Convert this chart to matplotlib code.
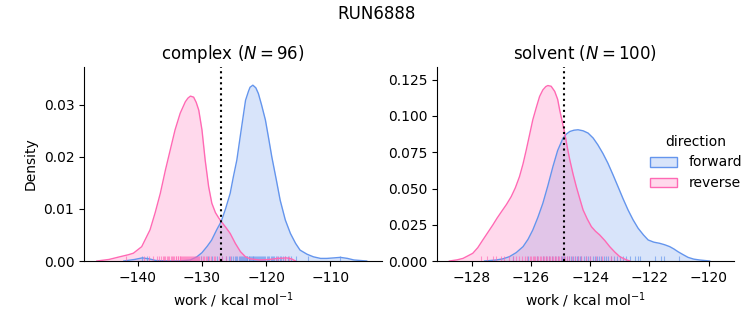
import numpy as np
import matplotlib.pyplot as plt
import matplotlib.patches as patches
import matplotlib.colors as mcolors
import matplotlib.transforms as mtransforms

# kernel density curves (work, density) for each phase / direction
cx_fwd_x = [-142.2, -140.5, -139.3, -138.2, -137.2, -135.0, -133.4, -131.8, -130.8, -130.0,
            -129.2, -128.5, -127.7, -127.0, -126.3, -125.6, -125.1, -124.56, -124.0, -123.5,
            -123.2, -122.75, -122.5, -122.06, -121.6, -121.2, -120.7, -120.1, -119.6, -119.1,
            -118.4, -117.8, -117.0, -116.2, -115.4, -114.7, -113.6, -112.6, -111.5, -110.5,
            -109.4, -108.4, -107.3, -106.3, -104.3]
cx_fwd_y = [0.0, 0.0003, 0.0006, 0.0004, 0.0001, 0.0, 0.0, 0.0002, 0.0008, 0.0016,
            0.0028, 0.0040, 0.0060, 0.0076, 0.0101, 0.0130, 0.0162, 0.0194, 0.0242, 0.0284,
            0.0309, 0.0326, 0.0334, 0.0338, 0.0333, 0.0322, 0.0300, 0.0271, 0.0236, 0.0200,
            0.0156, 0.0117, 0.0079, 0.0053, 0.0034, 0.0021, 0.0013, 0.0008, 0.0005, 0.0005,
            0.0006, 0.0007, 0.0005, 0.0002, 0.0]
cx_rev_x = [-146.4, -144.5, -142.76, -141.5, -140.7, -139.4, -138.1, -137.3, -136.5, -135.7,
            -134.96, -134.2, -133.4, -132.6, -132.2, -131.8, -131.3, -130.9, -130.5, -130.0,
            -129.5, -128.96, -128.46, -127.9, -127.4, -127.0, -126.3, -125.6, -124.8, -124.0,
            -123.2, -122.4, -121.0, -119.5, -118.2, -116.8, -116.0, -115.4]
cx_rev_y = [0.0, 0.0003, 0.00083, 0.0012, 0.0015, 0.00276, 0.0060, 0.0093, 0.0130, 0.0175,
            0.0213, 0.0252, 0.0284, 0.0306, 0.0313, 0.0317, 0.0315, 0.0305, 0.0290, 0.0252,
            0.0194, 0.0143, 0.0111, 0.0093, 0.0083, 0.0076, 0.0065, 0.0053, 0.0034, 0.0018,
            0.0008, 0.0004, 0.0002, 0.0003, 0.0005, 0.0006, 0.0004, 0.0]

sv_fwd_x = [-127.57, -127.18, -126.95, -126.73, -126.5, -126.27, -126.1, -125.94, -125.77, -125.6,
            -125.43, -125.26, -125.1, -124.92, -124.8, -124.69, -124.55, -124.41, -124.24, -124.07,
            -123.9, -123.74, -123.57, -123.4, -123.23, -123.06, -122.89, -122.72, -122.55, -122.38,
            -122.2, -122.04, -121.85, -121.65, -121.48, -121.31, -121.17, -121.03, -120.86, -120.69,
            -120.5, -120.3, -119.96]
sv_fwd_y = [0.0, 0.0007, 0.0015, 0.0030, 0.0058, 0.0099, 0.0150, 0.0214, 0.0300, 0.0398,
            0.0520, 0.0651, 0.0762, 0.0847, 0.0876, 0.0893, 0.0902, 0.0905, 0.0898, 0.0882,
            0.0848, 0.0801, 0.0742, 0.0674, 0.0595, 0.0513, 0.0430, 0.0352, 0.0284, 0.0226,
            0.0180, 0.0145, 0.0130, 0.0122, 0.0112, 0.0099, 0.0083, 0.0064, 0.0044, 0.0025,
            0.0013, 0.0007, 0.0]
sv_rev_x = [-128.76, -128.5, -128.3, -127.97, -127.8, -127.63, -127.46, -127.29, -127.15, -127.0,
            -126.83, -126.67, -126.53, -126.39, -126.27, -126.16, -126.05, -125.94, -125.82, -125.71,
            -125.6, -125.5, -125.43, -125.32, -125.2, -125.1, -125.03, -124.95, -124.86, -124.78,
            -124.69, -124.58, -124.47, -124.35, -124.24, -124.1, -123.96, -123.82, -123.68, -123.5,
            -123.34, -123.17, -123.0, -122.8, -122.66]
sv_rev_y = [0.0, 0.0008, 0.0018, 0.0053, 0.0092, 0.0145, 0.0197, 0.0249, 0.0295, 0.0340,
            0.0390, 0.0444, 0.0505, 0.0582, 0.0670, 0.0767, 0.0870, 0.0974, 0.1060, 0.1135,
            0.1180, 0.1203, 0.1210, 0.1205, 0.1170, 0.1115, 0.1040, 0.0965, 0.0882, 0.0790,
            0.0698, 0.0600, 0.0513, 0.0428, 0.0352, 0.0290, 0.0237, 0.0205, 0.0180, 0.0140,
            0.0099, 0.0062, 0.0030, 0.0010, 0.0]

# individual work values (rug)
cx_fwd_w = [-139.4, -138.6, -130.2, -129.1, -128.4, -127.6, -126.9, -126.3, -125.8, -125.5,
            -125.2, -124.9, -124.7, -124.5, -124.3, -124.1, -123.9, -123.8, -123.6, -123.5,
            -123.3, -123.2, -123.0, -122.9, -122.7, -122.6, -122.5, -122.4, -122.2, -122.1,
            -122.0, -121.9, -121.7, -121.6, -121.4, -121.3, -121.1, -121.0, -120.8, -120.6,
            -120.5, -120.3, -120.2, -119.9, -119.7, -119.5, -119.3, -119.1, -118.9, -118.7,
            -118.4, -118.2, -117.9, -117.6, -117.3, -117.0, -116.6, -116.1, -115.3, -113.4,
            -108.5]
cx_rev_w = [-141.8, -139.1, -138.3, -137.6, -137.0, -136.7, -136.4, -136.1, -135.9, -135.7,
            -135.5, -135.3, -135.1, -134.9, -134.7, -134.5, -134.3, -134.1, -134.0, -133.8,
            -133.7, -133.5, -133.4, -133.2, -133.1, -132.9, -132.8, -132.6, -132.5, -132.3,
            -132.2, -132.0, -131.9, -131.7, -131.6, -131.4, -131.3, -131.1, -131.0, -130.8,
            -130.6, -130.4, -130.2, -129.9, -129.7, -129.4, -129.2, -128.9, -128.6, -128.2,
            -127.9, -127.4, -126.8, -126.2, -125.6, -118.3, -117.1, -116.4]
sv_fwd_w = [-126.6, -126.1, -125.8, -125.6, -125.5, -125.4, -125.3, -125.2, -125.1, -125.0,
            -124.95, -124.88, -124.8, -124.72, -124.65, -124.58, -124.5, -124.45, -124.4, -124.35,
            -124.3, -124.22, -124.15, -124.08, -124.0, -123.92, -123.85, -123.78, -123.7, -123.62,
            -123.55, -123.48, -123.4, -123.3, -123.2, -123.1, -123.0, -122.9, -122.8, -122.65,
            -122.5, -122.4, -122.3, -121.8, -121.6, -121.5, -121.0]
sv_rev_w = [-127.7, -127.5, -127.3, -127.2, -127.0, -126.9, -126.75, -126.6, -126.5, -126.4,
            -126.3, -126.2, -126.12, -126.05, -126.0, -125.95, -125.9, -125.85, -125.8, -125.75,
            -125.7, -125.65, -125.6, -125.55, -125.5, -125.45, -125.4, -125.35, -125.3, -125.25,
            -125.2, -125.15, -125.1, -125.05, -125.0, -124.92, -124.85, -124.78, -124.7, -124.6,
            -124.5, -124.4, -124.3, -124.15, -124.0, -123.8, -123.6, -123.3]

directions = ['forward', 'reverse']
colors = {'forward': 'cornflowerblue', 'reverse': 'hotpink'}
n_samples = {'complex': 96, 'solvent': 100}
mean_work = {'complex': -127.0, 'solvent': -124.9}

panels = [
    ('complex', {'forward': (cx_fwd_x, cx_fwd_y, cx_fwd_w), 'reverse': (cx_rev_x, cx_rev_y, cx_rev_w)},
     (-148.4, -101.9), (0, 0.0373), [-140, -130, -120, -110], [0, 0.01, 0.02, 0.03]),
    ('solvent', {'forward': (sv_fwd_x, sv_fwd_y, sv_fwd_w), 'reverse': (sv_rev_x, sv_rev_y, sv_rev_w)},
     (-129.18, -119.14), (0, 0.1338), [-128, -126, -124, -122, -120], [0, 0.025, 0.05, 0.075, 0.1, 0.125]),
]

fig = plt.figure(figsize=(7.53, 3.25), dpi=100)
axes = [fig.add_axes([0.1116, 0.1969, 0.3958, 0.597]),
        fig.add_axes([0.5803, 0.1969, 0.3944, 0.597])]

for ax, (phase, curves, xlim, ylim, xt, yt) in zip(axes, panels):
    trans = mtransforms.blended_transform_factory(ax.transData, ax.transAxes)
    for d in directions:
        x, y, w = curves[d]
        ax.fill_between(x, y, color=colors[d], alpha=0.25, lw=0)
        ax.plot(x, y, color=colors[d], lw=1)
        ax.vlines(w, 0, 0.025, transform=trans, color=colors[d], lw=0.8, alpha=0.65)
    ax.axvline(mean_work[phase], color='k', ls=':', lw=1.5)
    ax.set_xlim(*xlim)
    ax.set_ylim(*ylim)
    ax.set_xticks(xt)
    ax.set_yticks(yt)
    ax.spines['top'].set_visible(False)
    ax.spines['right'].set_visible(False)
    ax.set_title(f'{phase} ($N = {n_samples[phase]}$)')
    ax.set_xlabel('work / kcal mol$^{-1}$')

axes[0].set_ylabel('Density')

handles = [patches.Patch(facecolor=(*mcolors.to_rgb(colors[d]), 0.25),
                         edgecolor=colors[d]) for d in directions]
fig.legend(handles, directions, title='direction', loc='center left',
           bbox_to_anchor=(0.846, 0.5), frameon=False)
fig.suptitle('RUN6888', y=0.985)

fig.savefig('out.png', dpi=100)
